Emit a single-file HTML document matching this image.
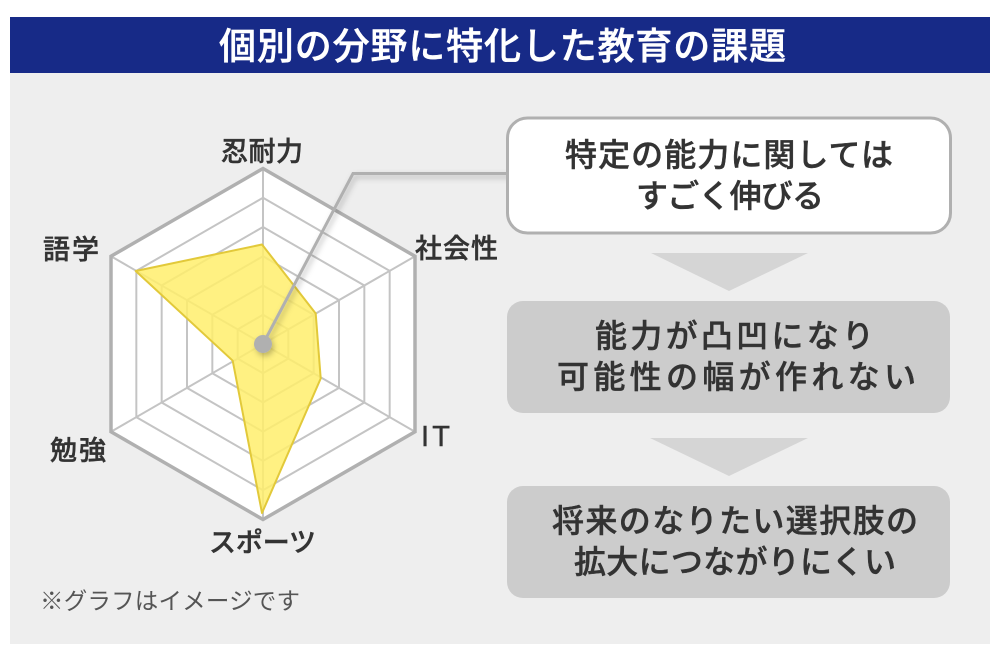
<!DOCTYPE html>
<html lang="ja"><head><meta charset="utf-8"><title>個別の分野に特化した教育の課題</title>
<style>
html,body{margin:0;padding:0;background:#fff;width:1000px;height:660px;overflow:hidden}
svg{display:block}
text{font-family:"Liberation Sans","Noto Sans CJK JP",sans-serif;fill:#333;font-weight:500;stroke:#333;stroke-width:.45px}
.b{font-size:32px}
.l{font-size:27px}
</style></head><body>
<svg width="1000" height="660" viewBox="0 0 1000 660" xmlns="http://www.w3.org/2000/svg">
<defs><filter id="s" x="-20%" y="-20%" width="140%" height="140%"><feDropShadow dx="2" dy="3" stdDeviation="3" flood-color="#000" flood-opacity=".25"/></filter></defs>
<rect x="10" y="73" width="980" height="571" fill="#eee"/>
<rect x="10" y="17" width="980" height="56" fill="#172a87"/>
<text x="219" y="59" font-size="37" textLength="567" lengthAdjust="spacing" style="fill:#fff;stroke:#fff">個別の分野に特化した教育の課題</text>

<polygon points="263,168.5 415,256.25 415,431.75 263,519.5 111,431.75 111,256.25" fill="#fff"/>
<g fill="none" stroke="#c4c4c4" stroke-width="2">
<polygon points="263,314.75 288.33,329.38 288.33,358.63 263,373.25 237.67,358.63 237.67,329.38"/>
<polygon points="263,285.5 313.67,314.75 313.67,373.25 263,402.5 212.33,373.25 212.33,314.75"/>
<polygon points="263,256.25 339,300.13 339,387.88 263,431.75 187,387.88 187,300.13"/>
<polygon points="263,227 364.33,285.5 364.33,402.5 263,461 161.67,402.5 161.67,285.5"/>
<polygon points="263,197.75 389.67,270.88 389.67,417.13 263,490.25 136.33,417.13 136.33,270.88"/>
<path d="M263 168.5V519.5M111 256.25L415 431.75M415 256.25L111 431.75"/>
</g>
<polygon points="263,168.5 415,256.25 415,431.75 263,519.5 111,431.75 111,256.25" fill="none" stroke="#b0b0b0" stroke-width="3.5"/>
<polygon points="262,244.5 315.7,313.5 320.7,378.5 262,513 232.7,360.7 135.7,271" fill="#ffee6c" fill-opacity=".85" stroke="#e2c93a" stroke-width="2" stroke-linejoin="round"/>
<g filter="url(#s)">
<polyline points="263,344 353,173.5 512,173.5" fill="none" stroke="#b0b0b0" stroke-width="3"/>
<circle cx="263" cy="344" r="9" fill="#b0b0b0"/>
</g>

<text class="l" x="221" y="161" textLength="82">忍耐力</text>
<text class="l" x="415" y="258" textLength="83">社会性</text>
<text class="l" x="43" y="259" textLength="56">語学</text>
<text class="l" x="421" y="446" textLength="29" style="font-size:29px">IT</text>
<text class="l" x="50" y="460" textLength="56">勉強</text>
<text class="l" x="209" y="552" textLength="107">スポーツ</text>
<text x="40" y="609" font-size="23.5" textLength="260" style="font-weight:400;fill:#555;stroke:none">※グラフはイメージです</text>

<rect x="507.5" y="118" width="443" height="115" rx="20" fill="#fff" stroke="#b0b0b0" stroke-width="3"/>
<polygon points="651,253 808,253 729,291" fill="#d5d5d5"/>
<rect x="507" y="301" width="443" height="112" rx="16" fill="#ccc"/>
<polygon points="650,438 808,438 729,476" fill="#d5d5d5"/>
<rect x="507" y="486" width="443" height="112" rx="16" fill="#ccc"/>

<text class="b" x="565" y="166" textLength="328">特定の能力に関しては</text>
<text class="b" x="636" y="207" textLength="188">すごく伸びる</text>
<text class="b" x="595" y="347" textLength="279">能力が凸凹になり</text>
<text class="b" x="557" y="388" textLength="359">可能性の幅が作れない</text>
<text class="b" x="552" y="532" textLength="366">将来のなりたい選択肢の</text>
<text class="b" x="574" y="573" textLength="322">拡大につながりにくい</text>
</svg>
</body></html>
